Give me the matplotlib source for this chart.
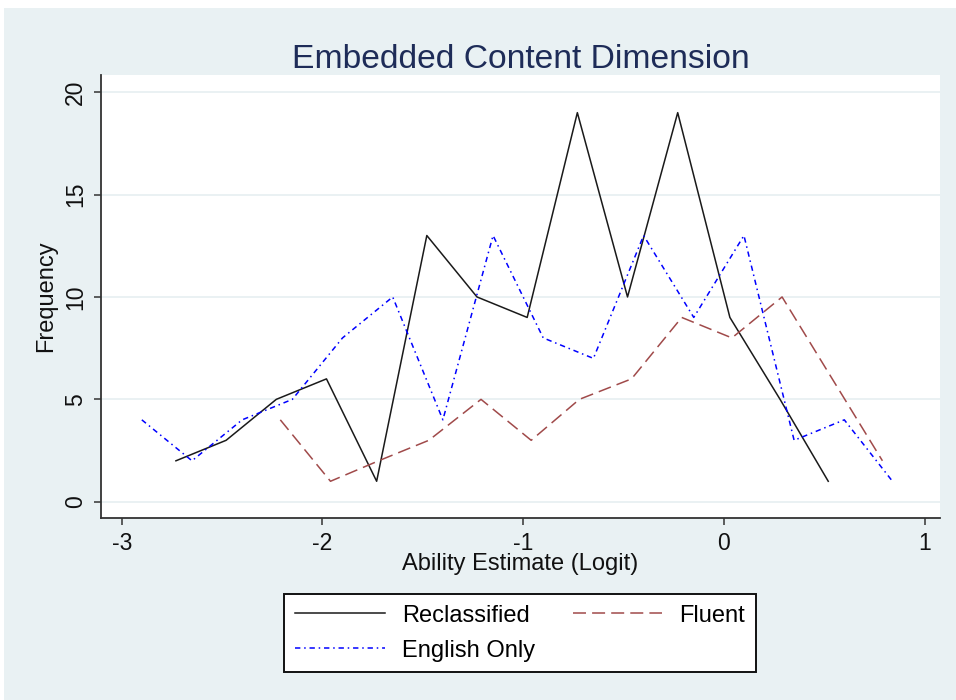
import matplotlib
matplotlib.use('Agg')
import matplotlib.pyplot as plt
from matplotlib.patches import Rectangle

# ---- data ----
reclassified_x = [-2.73, -2.48, -2.23, -1.98, -1.73, -1.48, -1.23, -0.98, -0.73, -0.48, -0.23, 0.03, 0.28, 0.52]
reclassified_y = [2, 3, 5, 6, 1, 13, 10, 9, 19, 10, 19, 9, 5, 1]

fluent_x = [-2.21, -1.96, -1.72, -1.47, -1.21, -0.96, -0.72, -0.46, -0.21, 0.04, 0.29, 0.54, 0.79]
fluent_y = [4, 1, 2, 3, 5, 3, 5, 6, 9, 8, 10, 6, 2]

english_x = [-2.90, -2.65, -2.40, -2.15, -1.90, -1.65, -1.40, -1.15, -0.90, -0.65, -0.40, -0.15, 0.10, 0.35, 0.60, 0.84]
english_y = [4, 2, 4, 5, 8, 10, 4, 13, 8, 7, 13, 9, 13, 3, 4, 1]

x_ticks = [-3, -2, -1, 0, 1]
y_ticks = [0, 5, 10, 15, 20]

title = "Embedded Content Dimension"
x_label = "Ability Estimate (Logit)"
y_label = "Frequency"
series_names = ["Reclassified", "Fluent", "English Only"]

# ---- styling ----
plt.rcParams['font.family'] = ['Liberation Sans', 'DejaVu Sans']
plt.rcParams['axes.unicode_minus'] = False
BG = '#E9F1F3'
GRID = '#E6EFF1'
SPINE = '#333333'

fig = plt.figure(figsize=(9.56, 7.0), dpi=100)
fig.patch.set_facecolor('white')
fig.patches.append(Rectangle((4 / 956, 0), 1, 1 - 8 / 700, transform=fig.transFigure,
                             facecolor=BG, edgecolor='none', zorder=-10))

ax = fig.add_axes([0.1053, 0.2604, 0.8780, 0.6325])
ax.set_facecolor('white')

l1, = ax.plot(reclassified_x, reclassified_y, color='#1a1a1a', lw=1.1, ls='-')
l2, = ax.plot(fluent_x, fluent_y, color='#A04A4A', lw=1.1, ls=(0, (8.5, 4)))
l3, = ax.plot(english_x, english_y, color='#0000FF', lw=1.1, ls=(0, (3.5, 2.5, 1, 2.5)))

ax.set_xlim(-3.105, 1.077)
ax.set_ylim(-0.78, 20.84)
ax.set_xticks(x_ticks)
ax.set_xticklabels([str(v) for v in x_ticks])
ax.set_yticks(y_ticks)
ax.set_yticklabels([str(v) for v in y_ticks], rotation=90, va='center')

ax.grid(axis='y', color=GRID, lw=1.2)
ax.set_axisbelow(True)
for s in ['top', 'right']:
    ax.spines[s].set_visible(False)
for s in ['left', 'bottom']:
    ax.spines[s].set_color(SPINE)
    ax.spines[s].set_linewidth(1.3)

ax.tick_params(axis='both', direction='out', length=5, width=1.1, color=SPINE,
               labelsize=16.5, labelcolor='#111111', pad=5)

ax.set_xlabel(x_label, fontsize=17, color='#111111', labelpad=-1)
ax.set_ylabel(y_label, fontsize=17, color='#111111', labelpad=5)
ax.set_title(title, fontsize=24.2, color='#1E2C58', pad=4)

# column-major fill: column 1 = Reclassified, English Only; column 2 = Fluent
leg = fig.legend([l1, l3, l2], [series_names[0], series_names[2], series_names[1]],
                 loc='center', bbox_to_anchor=(0.5439, 0.0957), ncol=2,
                 fontsize=17, frameon=True, fancybox=False,
                 handlelength=3.8, handletextpad=0.72, columnspacing=1.6,
                 labelspacing=0.55, borderpad=0.45)
frame = leg.get_frame()
frame.set_edgecolor('#111111')
frame.set_linewidth(1.4)
frame.set_facecolor('white')
frame.set_alpha(1)

fig.savefig('out.png', dpi=100, facecolor=fig.get_facecolor())
